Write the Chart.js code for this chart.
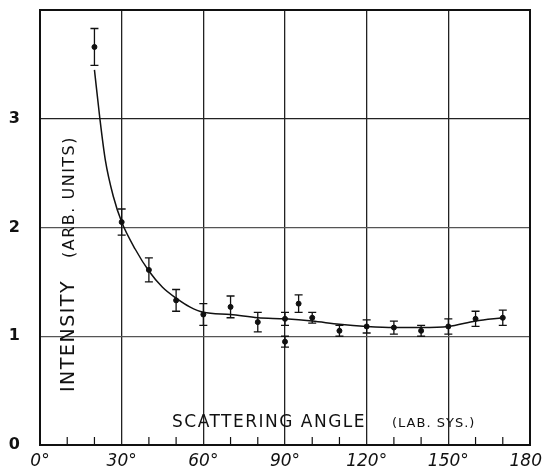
<!DOCTYPE html>
<html>
<head>
<meta charset="utf-8">
<script src="https://cdn.jsdelivr.net/npm/chart.js@4"></script>
<style>
  html, body { margin: 0; padding: 0; background: #fff; }
  #wrap { width: 543px; height: 471px; }
</style>
</head>
<body>
<div id="wrap"><canvas id="chart"></canvas></div>
<script>
// measured points (scattering angle, intensity, error)
const angles    = [20, 30, 40, 50, 60, 70, 80, 90, 90, 95, 100, 110, 120, 130, 140, 150, 160, 170];
const intensity = [3.66, 2.05, 1.61, 1.33, 1.20, 1.27, 1.13, 1.16, 0.95, 1.30, 1.17, 1.05, 1.09, 1.08, 1.05, 1.09, 1.16, 1.17];
const errors    = [0.17, 0.12, 0.11, 0.10, 0.10, 0.10, 0.09, 0.06, 0.05, 0.08, 0.05, 0.05, 0.06, 0.06, 0.05, 0.07, 0.07, 0.07];

// hand-drawn curve
const curveAngles = [20, 22, 24, 27, 30, 35, 40, 45, 50, 55, 60, 70, 80, 90, 100, 110, 120, 130, 140, 150, 160, 170];
const curveValues = [3.45, 3.0, 2.62, 2.28, 2.05, 1.80, 1.60, 1.45, 1.35, 1.27, 1.22, 1.20, 1.17, 1.16, 1.14, 1.11, 1.09, 1.08, 1.08, 1.09, 1.14, 1.17];

const xMajor = [0, 30, 60, 90, 120, 150, 180];
const xMinor = [10, 20, 40, 50, 70, 80, 100, 110, 130, 140, 160, 170];
const yTicks = [0, 1, 2, 3];

const ink = "#111";

const frame = {
    id: "frame",
    afterDatasetsDraw(chart) {
        const { ctx, chartArea: a, scales: { x, y } } = chart;
        ctx.save();
        ctx.strokeStyle = ink;
        ctx.fillStyle = ink;

        // error bars
        ctx.lineWidth = 1.3;
        angles.forEach((ang, i) => {
            const px = x.getPixelForValue(ang);
            const top = y.getPixelForValue(intensity[i] + errors[i]);
            const bot = y.getPixelForValue(intensity[i] - errors[i]);
            ctx.beginPath();
            ctx.moveTo(px, top); ctx.lineTo(px, bot);
            ctx.moveTo(px - 4, top); ctx.lineTo(px + 4, top);
            ctx.moveTo(px - 4, bot); ctx.lineTo(px + 4, bot);
            ctx.stroke();
        });

        // minor ticks on the bottom axis
        ctx.lineWidth = 1.2;
        xMinor.forEach(v => {
            const px = x.getPixelForValue(v);
            ctx.beginPath();
            ctx.moveTo(px, a.bottom);
            ctx.lineTo(px, a.bottom - 8);
            ctx.stroke();
        });

        // box
        ctx.lineWidth = 2;
        ctx.strokeRect(a.left, a.top, a.right - a.left, a.bottom - a.top);

        // axis titles, drawn inside the plot like the original
        ctx.textBaseline = "alphabetic";
        ctx.textAlign = "left";
        ctx.letterSpacing = "1.5px";
        ctx.font = "17px 'DejaVu Sans'";
        ctx.fillText("SCATTERING ANGLE", a.left + 132, a.bottom - 18);
        ctx.letterSpacing = "1px";
        ctx.font = "13px 'DejaVu Sans'";
        ctx.fillText("(LAB. SYS.)", a.left + 352, a.bottom - 18);

        ctx.translate(a.left + 34, a.bottom - 53);
        ctx.rotate(-Math.PI / 2);
        ctx.letterSpacing = "1.5px";
        ctx.font = "19px 'DejaVu Sans'";
        ctx.fillText("INTENSITY", 0, 0);
        ctx.font = "16px 'DejaVu Sans'";
        ctx.fillText("(ARB. UNITS)", 134, 0);
        ctx.restore();
    }
};

new Chart(document.getElementById("chart"), {
    type: "scatter",
    data: {
        datasets: [
            {
                label: "curve",
                data: curveAngles.map((a, i) => ({ x: a, y: curveValues[i] })),
                showLine: true,
                borderColor: ink,
                borderWidth: 1.5,
                pointRadius: 0,
                cubicInterpolationMode: "monotone",
                fill: false
            },
            {
                label: "measured",
                data: angles.map((a, i) => ({ x: a, y: intensity[i] })),
                pointRadius: 2.5,
                pointBackgroundColor: ink,
                pointBorderColor: ink,
                borderColor: ink
            }
        ]
    },
    options: {
        responsive: true,
        maintainAspectRatio: false,
        animation: false,
        events: [],
        layout: { padding: { top: 10, right: 13, left: 0, bottom: 0 } },
        plugins: { legend: { display: false }, tooltip: { enabled: false } },
        scales: {
            x: {
                type: "linear",
                min: 0,
                max: 180,
                afterBuildTicks: s => { s.ticks = xMajor.map(v => ({ value: v })); },
                afterFit: s => { s.height = 26; s.paddingLeft = 0; s.paddingRight = 0; },
                ticks: {
                    autoSkip: false,
                    maxRotation: 0,
                    padding: 6,
                    color: ink,
                    font: { family: "'DejaVu Sans'", size: 17, style: "italic" },
                    callback: v => v + "°"
                },
                grid: {
                    color: "#222",
                    lineWidth: 1.3,
                    drawTicks: false
                },
                border: { display: false }
            },
            y: {
                min: 0,
                max: 4,
                afterBuildTicks: s => { s.ticks = yTicks.map(v => ({ value: v })); },
                afterFit: s => { s.width = 40; s.paddingTop = 0; s.paddingBottom = 0; },
                ticks: {
                    padding: 20,
                    color: ink,
                    font: { family: "'DejaVu Sans'", size: 16, weight: "bold" }
                },
                grid: {
                    color: ctx => {
                        const v = ctx.tick ? ctx.tick.value : 0;
                        if (v === 3) return "#222";
                        return v > 0 ? "#555" : "transparent";
                    },
                    lineWidth: 1.3,
                    drawTicks: false
                },
                border: { display: false }
            }
        }
    },
    plugins: [frame]
});
</script>
</body>
</html>
